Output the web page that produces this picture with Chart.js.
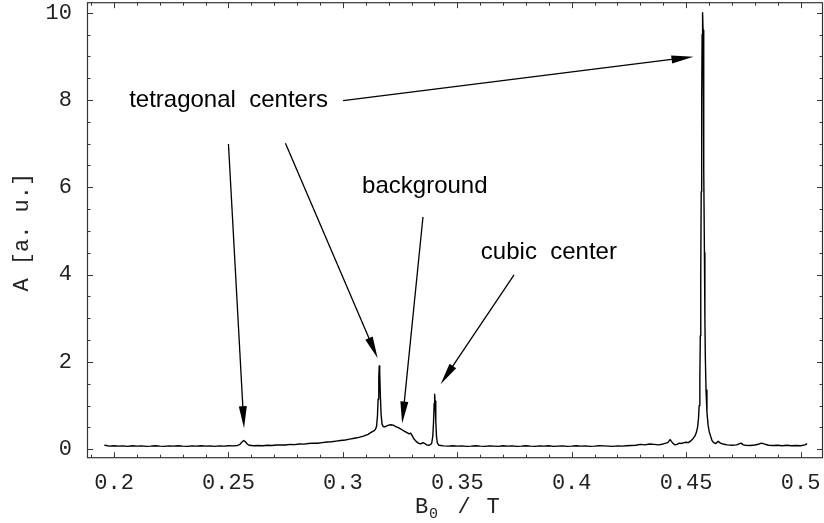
<!DOCTYPE html>
<html>
<head>
<meta charset="utf-8">
<script src="https://cdn.jsdelivr.net/npm/chart.js@4.4.1/dist/chart.umd.min.js"></script>
<style>
html,body{margin:0;padding:0;background:#fff;}
canvas{display:block;}
</style>
</head>
<body>
<canvas id="c" width="824" height="523"></canvas>
<script>
// ---- data ----
const fieldT = [
0.196,0.198,0.200,0.202,0.204,0.206,0.208,0.210,0.212,0.214,0.216,0.218,0.220,0.222,0.224,0.226,0.228,0.230,0.232,0.234,0.236,0.238,0.240,0.242,0.244,0.246,0.248,0.250,0.252,0.254,
0.255,0.256,0.2567,0.2574,0.2582,0.259,0.261,0.263,0.265,0.267,0.269,0.271,0.273,0.275,0.277,0.279,0.281,0.283,0.285,0.287,0.289,0.291,0.293,0.295,0.297,0.299,0.301,0.303,0.305,0.307,0.309,0.311,0.3125,
0.3135,0.3142,0.3147,0.3151,0.3154,0.3157,0.3159,0.3161,0.3164,0.3167,0.3171,0.3176,0.3183,0.319,0.320,0.321,0.322,0.323,0.324,0.325,0.326,0.327,0.328,0.329,0.3296,0.3303,0.331,0.332,0.333,0.334,0.335,0.3358,0.3366,0.3374,
0.338,0.3388,0.3393,0.3396,0.3399,0.3401,0.3403,0.3406,0.3409,0.3413,0.342,0.344,0.346,0.348,
0.350,0.352,0.354,0.356,0.358,0.360,0.362,0.364,0.366,0.368,0.370,0.372,0.374,0.376,0.378,0.380,0.382,0.384,0.386,0.388,0.390,0.392,0.394,0.396,0.398,0.400,0.402,0.404,0.406,0.408,0.410,0.412,0.414,0.416,0.418,0.420,0.422,0.424,0.426,0.428,
0.430,0.432,0.434,0.436,0.438,0.440,0.442,0.443,0.444,0.445,0.446,0.447,0.448,0.449,0.450,0.451,0.452,0.453,0.4538,
0.4544,0.4550,0.4554,0.4557,0.4560,0.4562,0.4564,0.4566,0.4568,0.4570,0.4572,0.4574,0.4576,0.4578,0.4580,0.4582,0.4584,0.4587,0.4591,0.4596,0.4601,0.4607,0.4613,
0.462,0.463,0.464,0.465,0.466,0.468,0.470,0.472,0.474,0.475,0.476,0.478,0.480,0.482,0.483,0.484,0.486,0.488,0.490,0.492,0.494,0.496,0.498,0.500,0.502,0.5027
];
const absorbA = [
0.09,0.07,0.08,0.07,0.075,0.065,0.08,0.07,0.075,0.065,0.07,0.08,0.07,0.065,0.075,0.07,0.08,0.07,0.065,0.075,0.07,0.08,0.07,0.075,0.065,0.075,0.07,0.08,0.075,0.085,
0.11,0.17,0.2,0.17,0.12,0.09,0.08,0.085,0.08,0.09,0.085,0.095,0.1,0.095,0.11,0.105,0.12,0.115,0.13,0.14,0.135,0.15,0.165,0.17,0.185,0.2,0.21,0.23,0.25,0.27,0.3,0.34,0.39,
0.42,0.45,0.52,0.75,1.15,1.65,1.91,1.75,1.2,0.8,0.58,0.52,0.51,0.53,0.55,0.56,0.55,0.52,0.5,0.47,0.44,0.41,0.38,0.35,0.37,0.31,0.24,0.18,0.14,0.12,0.15,0.13,0.1,0.09,
0.095,0.13,0.3,0.6,1.05,1.26,1.1,0.65,0.3,0.14,0.09,0.075,0.07,0.08,
0.07,0.075,0.065,0.07,0.08,0.07,0.065,0.075,0.07,0.065,0.08,0.07,0.075,0.065,0.07,0.08,0.07,0.065,0.075,0.07,0.08,0.065,0.07,0.075,0.065,0.07,0.08,0.07,0.075,0.065,0.07,0.08,0.075,0.07,0.065,0.075,0.07,0.08,0.085,0.09,
0.11,0.1,0.12,0.11,0.1,0.12,0.15,0.22,0.15,0.1,0.11,0.14,0.13,0.15,0.16,0.15,0.19,0.24,0.3,
0.37,0.5,0.7,1.0,1.6,2.6,4.0,5.9,8.0,9.5,10.0,9.6,8.3,6.4,4.5,3.0,2.1,1.35,0.85,0.55,0.4,0.3,0.2,
0.15,0.13,0.18,0.14,0.12,0.1,0.09,0.1,0.14,0.1,0.09,0.085,0.095,0.12,0.14,0.12,0.09,0.085,0.09,0.08,0.09,0.08,0.085,0.08,0.1,0.12
];
const xTicks = [0.2, 0.25, 0.3, 0.35, 0.4, 0.45, 0.5];
const yTicks = [0, 2, 4, 6, 8, 10];
const xRange = [0.1884, 0.5096];
const yRange = [-0.195, 10.23];
const xMinorStep = 0.01;
const yMinorStep = 0.5;
const notes = [
  {text: 'tetragonal  centers', x: 0.2066, y: 7.85},
  {text: 'background', x: 0.3084, y: 5.86},
  {text: 'cubic  center', x: 0.3603, y: 4.35}
];
// arrows: [fromX, fromY, toX, toY] in data units
const arrows = [
  [0.3001, 7.986, 0.4532, 8.992],
  [0.2500, 6.992, 0.2568, 0.479],
  [0.2749, 7.008, 0.3152, 2.083],
  [0.3350, 5.320, 0.3259, 0.589],
  [0.3748, 3.995, 0.3427, 1.487]
];
const xTitle = ['B', '0', '/', 'T'];
const yTitle = 'A [a. u.]';

const MONO = '"Liberation Mono", "Courier New", monospace';
const SANS = '"Liberation Sans", Arial, Helvetica, sans-serif';

const decor = {
  id: 'decor',
  afterDatasetsDraw(chart) {
    const ctx = chart.ctx;
    const a = chart.chartArea;
    const xs = chart.scales.x, ys = chart.scales.y;
    ctx.save();
    // frame
    ctx.strokeStyle = '#333';
    ctx.lineWidth = 1.2;
    ctx.strokeRect(a.left, a.top, a.right - a.left, a.bottom - a.top);
    // ticks
    ctx.lineWidth = 1;
    ctx.beginPath();
    const near = (v, arr) => arr.some(t => Math.abs(t - v) < 1e-6);
    for (let k = Math.ceil(xRange[0] / xMinorStep); k * xMinorStep <= xRange[1]; k++) {
      const v = k * xMinorStep;
      const px = Math.round(xs.getPixelForValue(v)) + 0.5;
      const len = near(v, xTicks) ? 5.5 : 3;
      ctx.moveTo(px, a.bottom); ctx.lineTo(px, a.bottom - len);
      ctx.moveTo(px, a.top); ctx.lineTo(px, a.top + len);
    }
    for (let k = Math.ceil(yRange[0] / yMinorStep); k * yMinorStep <= yRange[1]; k++) {
      const v = k * yMinorStep;
      const py = Math.round(ys.getPixelForValue(v)) + 0.5;
      const len = near(v, yTicks) ? 5.5 : 3;
      ctx.moveTo(a.left, py); ctx.lineTo(a.left + len, py);
      ctx.moveTo(a.right, py); ctx.lineTo(a.right - len, py);
    }
    ctx.stroke();

    // axis titles
    ctx.fillStyle = '#222';
    const cx = (a.left + a.right) / 2 + 2;
    ctx.textBaseline = 'alphabetic';
    ctx.font = '22px ' + MONO;
    ctx.textAlign = 'left';
    ctx.fillText(xTitle[0], cx - 42, 513);
    ctx.font = '15px ' + MONO;
    ctx.fillText(xTitle[1], cx - 28, 518);
    ctx.font = '22px ' + MONO;
    ctx.textAlign = 'center';
    ctx.fillText(xTitle[2], cx + 7, 513);
    ctx.fillText(xTitle[3], cx + 36, 513);

    ctx.save();
    ctx.translate(22.5, (a.top + a.bottom) / 2 + 2);
    ctx.rotate(-Math.PI / 2);
    ctx.textAlign = 'center';
    ctx.textBaseline = 'middle';
    ctx.font = '22px ' + MONO;
    ctx.fillText(yTitle, 0, 0);
    ctx.restore();

    // annotations
    ctx.fillStyle = '#000';
    ctx.font = '24px ' + SANS;
    ctx.textAlign = 'left';
    ctx.textBaseline = 'alphabetic';
    notes.forEach(n => ctx.fillText(n.text, xs.getPixelForValue(n.x), ys.getPixelForValue(n.y)));

    ctx.strokeStyle = '#000';
    ctx.lineWidth = 1.3;
    arrows.forEach(([x0, y0, x1, y1]) => {
      const sx = xs.getPixelForValue(x0), sy = ys.getPixelForValue(y0);
      const tx = xs.getPixelForValue(x1), ty = ys.getPixelForValue(y1);
      const dx = tx - sx, dy = ty - sy, L = Math.hypot(dx, dy);
      const ux = dx / L, uy = dy / L;
      const hl = 22, hw = 4;
      const bx = tx - ux * hl, by = ty - uy * hl;
      ctx.beginPath();
      ctx.moveTo(sx, sy); ctx.lineTo(bx + ux * 2, by + uy * 2);
      ctx.stroke();
      ctx.beginPath();
      ctx.moveTo(tx, ty);
      ctx.lineTo(bx - uy * hw, by + ux * hw);
      ctx.lineTo(bx + uy * hw, by - ux * hw);
      ctx.closePath();
      ctx.fill();
    });
    ctx.restore();
  }
};

const points = fieldT.map((x, i) => ({x: x, y: absorbA[i]}));

new Chart(document.getElementById('c'), {
  type: 'line',
  data: {
    datasets: [{
      data: points,
      borderColor: '#000',
      borderWidth: 1.4,
      borderJoinStyle: 'round',
      borderCapStyle: 'round',
      pointRadius: 0,
      tension: 0,
      fill: false
    }]
  },
  options: {
    responsive: false,
    animation: false,
    events: [],
    layout: {autoPadding: false, padding: {left: 0, right: 1.5, top: 2.7, bottom: 0}},
    plugins: {legend: {display: false}, tooltip: {enabled: false}, title: {display: false}},
    scales: {
      x: {
        type: 'linear',
        min: xRange[0], max: xRange[1],
        grid: {display: false, drawTicks: false},
        border: {display: false},
        afterBuildTicks: s => { s.ticks = xTicks.map(v => ({value: v})); },
        afterFit: s => { s.height = 523 - 457.7; s.paddingLeft = 0; s.paddingRight = 0; },
        ticks: {
          autoSkip: false, maxRotation: 0, padding: 12,
          color: '#222',
          font: {family: MONO, size: 22},
          callback: v => String(+Number(v).toFixed(2))
        }
      },
      y: {
        type: 'linear',
        min: yRange[0], max: yRange[1],
        grid: {display: false, drawTicks: false},
        border: {display: false},
        afterBuildTicks: s => { s.ticks = yTicks.map(v => ({value: v})); },
        afterFit: s => { s.width = 87.5; s.paddingTop = 0; s.paddingBottom = 0; },
        ticks: {
          autoSkip: false, padding: 15.5,
          color: '#222',
          font: {family: MONO, size: 22},
          callback: v => String(v)
        }
      }
    }
  },
  plugins: [decor]
});
</script>
</body>
</html>
